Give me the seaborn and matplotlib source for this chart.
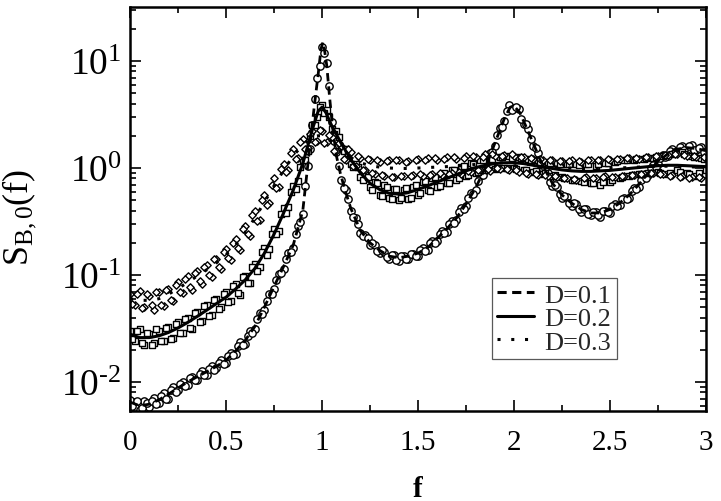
import numpy as np
import pandas as pd
import matplotlib
matplotlib.use("Agg")
import matplotlib.pyplot as plt
import seaborn as sns
from matplotlib.ticker import FixedLocator, FixedFormatter, LogLocator, NullFormatter, MultipleLocator

# ---------------- data ----------------
labels = ["D=0.1", "D=0.2", "D=0.3"]

f_curve_d1 = [0.00, 0.05, 0.10, 0.15, 0.20, 0.25, 0.30, 0.35, 0.40, 0.45, 0.50, 0.55, 0.60, 0.65,
              0.70, 0.75, 0.80, 0.85, 0.90, 0.92, 0.94, 0.96, 0.98, 0.995, 1.005, 1.015, 1.025,
              1.04, 1.055, 1.075, 1.095, 1.12, 1.15, 1.20, 1.25, 1.30, 1.35, 1.40, 1.45, 1.50,
              1.55, 1.60, 1.65, 1.70, 1.75, 1.80, 1.85, 1.90, 1.95, 1.98, 2.00, 2.03, 2.06, 2.10,
              2.15, 2.20, 2.25, 2.30, 2.35, 2.40, 2.45, 2.50, 2.55, 2.60, 2.65, 2.70, 2.75, 2.80,
              2.85, 2.90, 2.95, 3.00]
s_curve_d1 = [0.0065, 0.0060, 0.0062, 0.0068, 0.0077, 0.0088, 0.0100, 0.0112, 0.0125, 0.0140,
              0.0160, 0.0195, 0.0245, 0.0330, 0.050, 0.078, 0.120, 0.190, 0.40, 0.85, 1.8, 3.8,
              7.5, 13.0, 15.0, 12.0, 9.0, 4.5, 2.4, 1.3, 0.9, 0.62, 0.42, 0.26, 0.20, 0.17,
              0.15, 0.145, 0.15, 0.16, 0.18, 0.22, 0.27, 0.34, 0.46, 0.65, 1.0, 1.7, 2.9, 3.7,
              3.8, 3.3, 2.5, 1.7, 1.05, 0.72, 0.56, 0.47, 0.41, 0.38, 0.38, 0.41, 0.47, 0.56,
              0.70, 0.90, 1.15, 1.35, 1.50, 1.55, 1.52, 1.45]

f_curve = [0.00, 0.05, 0.10, 0.15, 0.20, 0.25, 0.30, 0.35, 0.40, 0.45, 0.50, 0.55, 0.60, 0.65,
           0.70, 0.75, 0.80, 0.85, 0.90, 0.95, 0.98, 1.00, 1.02, 1.05, 1.10, 1.15, 1.20, 1.25,
           1.30, 1.35, 1.40, 1.45, 1.50, 1.55, 1.60, 1.65, 1.70, 1.75, 1.80, 1.85, 1.90, 1.95,
           2.00, 2.05, 2.10, 2.15, 2.20, 2.25, 2.30, 2.35, 2.40, 2.45, 2.50, 2.55, 2.60, 2.65,
           2.70, 2.75, 2.80, 2.85, 2.90, 2.95, 3.00]
s_curve_d2 = [0.028, 0.026, 0.026, 0.027, 0.029, 0.032, 0.036, 0.041, 0.047, 0.054, 0.062, 0.074,
              0.090, 0.115, 0.16, 0.24, 0.38, 0.62, 1.1, 2.3, 3.4, 3.7, 3.3, 2.5, 1.7, 1.2, 0.90,
              0.72, 0.63, 0.58, 0.57, 0.59, 0.63, 0.68, 0.74, 0.80, 0.87, 0.94, 1.01, 1.06, 1.10,
              1.12, 1.12, 1.10, 1.06, 1.02, 0.99, 0.96, 0.94, 0.93, 0.93, 0.94, 0.95, 0.97, 0.99,
              1.01, 1.03, 1.05, 1.06, 1.06, 1.05, 1.04, 1.03]
s_curve_d3 = [0.060, 0.058, 0.058, 0.060, 0.066, 0.075, 0.085, 0.098, 0.112, 0.130, 0.155, 0.19,
              0.25, 0.34, 0.48, 0.68, 0.95, 1.3, 1.65, 1.95, 2.0, 2.0, 1.95, 1.75, 1.45, 1.25, 1.12,
              1.05, 1.02, 1.00, 0.99, 0.99, 1.00, 1.01, 1.02, 1.03, 1.04, 1.06, 1.08, 1.10, 1.11,
              1.12, 1.11, 1.09, 1.07, 1.05, 1.03, 1.01, 1.00, 0.99, 0.99, 0.99, 1.00, 1.00, 1.01,
              1.02, 1.03, 1.04, 1.04, 1.04, 1.03, 1.02, 1.02]

# simulation points, set A: f = 0, 0.025, ..., 3.0
pts_d1 = [0.0068, 0.0058, 0.0055, 0.0066, 0.0059, 0.0071, 0.0063, 0.0079, 0.0070, 0.0090,
          0.0084, 0.0101, 0.0093, 0.0112, 0.0105, 0.0127, 0.0117, 0.0141, 0.0134, 0.0162,
          0.0151, 0.0188, 0.0183, 0.0236, 0.0229, 0.0300, 0.0310, 0.0440, 0.0470, 0.0660,
          0.0740, 0.1030, 0.1150, 0.1600, 0.1800, 0.2900, 0.3700, 1.05, 2.5, 6.9,
          13.5, 9.6, 2.7, 1.4, 0.78, 0.62, 0.40, 0.34, 0.245, 0.235,
          0.19, 0.19, 0.16, 0.165, 0.14, 0.155, 0.135, 0.152, 0.142, 0.158,
          0.151, 0.178, 0.171, 0.21, 0.208, 0.26, 0.255, 0.32, 0.325, 0.42,
          0.44, 0.58, 0.62, 0.85, 0.95, 1.38, 1.6, 2.35, 2.75, 3.9,
          3.6, 3.55, 2.6, 2.3, 1.6, 1.38, 0.98, 0.9, 0.68, 0.66,
          0.53, 0.54, 0.44, 0.46, 0.39, 0.41, 0.36, 0.39, 0.35, 0.40,
          0.38, 0.46, 0.45, 0.53, 0.53, 0.65, 0.66, 0.84, 0.86, 1.07,
          1.1, 1.32, 1.3, 1.5, 1.45, 1.62, 1.5, 1.63, 1.46, 1.56,
          1.38]
pts_d2 = [0.030, 0.024, 0.031, 0.022, 0.028, 0.023, 0.030, 0.024, 0.033, 0.026,
          0.036, 0.029, 0.040, 0.031, 0.045, 0.037, 0.052, 0.042, 0.060, 0.050,
          0.070, 0.057, 0.083, 0.065, 0.098, 0.084, 0.128, 0.118, 0.180, 0.175,
          0.27, 0.26, 0.42, 0.43, 0.68, 0.75, 1.2, 1.45, 2.5, 3.0,
          3.9, 3.5, 2.3, 2.2, 1.55, 1.5, 1.1, 1.08, 0.82, 0.86,
          0.66, 0.74, 0.56, 0.69, 0.52, 0.64, 0.50, 0.62, 0.51, 0.66,
          0.56, 0.74, 0.62, 0.80, 0.66, 0.88, 0.72, 0.95, 0.78, 1.02,
          0.85, 1.12, 0.90, 1.2, 0.95, 1.25, 0.98, 1.28, 1.0, 1.3,
          1.0, 1.26, 0.95, 1.22, 0.92, 1.18, 0.88, 1.15, 0.85, 1.12,
          0.82, 1.1, 0.78, 1.08, 0.75, 1.1, 0.72, 1.05, 0.70, 1.12,
          0.74, 1.15, 0.80, 1.18, 0.85, 1.2, 0.88, 1.22, 0.90, 1.25,
          0.92, 1.3, 0.88, 1.35, 0.95, 1.4, 0.90, 1.3, 0.85, 1.25,
          0.95]
pts_d3 = [0.066, 0.052, 0.071, 0.050, 0.064, 0.047, 0.069, 0.051, 0.074, 0.057,
          0.086, 0.068, 0.097, 0.073, 0.110, 0.083, 0.125, 0.095, 0.142, 0.115,
          0.175, 0.138, 0.215, 0.17, 0.29, 0.23, 0.40, 0.33, 0.56, 0.47,
          0.80, 0.66, 1.1, 0.95, 1.5, 1.25, 1.85, 1.55, 2.2, 1.8,
          2.2, 1.75, 1.95, 1.45, 1.6, 1.2, 1.4, 1.05, 1.25, 0.95,
          1.2, 0.88, 1.15, 0.85, 1.18, 0.82, 1.2, 0.84, 1.16, 0.86,
          1.22, 0.85, 1.25, 0.88, 1.2, 0.86, 1.28, 0.9, 1.22, 0.88,
          1.3, 0.92, 1.28, 0.95, 1.35, 0.94, 1.3, 0.98, 1.32, 0.96,
          1.3, 0.92, 1.26, 0.88, 1.22, 0.86, 1.2, 0.84, 1.18, 0.82,
          1.16, 0.8, 1.18, 0.78, 1.15, 0.82, 1.2, 0.8, 1.18, 0.84,
          1.2, 0.82, 1.22, 0.85, 1.25, 0.86, 1.22, 0.88, 1.28, 0.9,
          1.3, 0.88, 1.32, 0.86, 1.35, 0.84, 1.3, 0.82, 1.28, 0.8,
          1.25]

# simulation points, set B: f = 0.0125, 0.0375, ..., 2.9875
pts_d1_b = [0.0060, 0.0066, 0.0057, 0.0064, 0.0067, 0.0062, 0.0074, 0.0070, 0.0084, 0.0081,
            0.0096, 0.0092, 0.0108, 0.0104, 0.0120, 0.0116, 0.0133, 0.0130, 0.0150, 0.0147,
            0.0175, 0.0178, 0.0215, 0.0222, 0.0270, 0.0285, 0.0385, 0.0430, 0.0570, 0.0670,
            0.090, 0.104, 0.140, 0.163, 0.24, 0.31, 0.68, 1.5, 4.4, 9.0,
            12.0, 5.8, 1.8, 1.05, 0.65, 0.51, 0.35, 0.30, 0.23, 0.22,
            0.20, 0.168, 0.17, 0.148, 0.155, 0.138, 0.152, 0.14, 0.158, 0.15,
            0.172, 0.168, 0.198, 0.2, 0.242, 0.245, 0.298, 0.305, 0.385, 0.41,
            0.52, 0.57, 0.75, 0.86, 1.2, 1.42, 2.05, 2.4, 3.4, 3.5,
            3.75, 2.9, 2.55, 1.85, 1.55, 1.1, 0.99, 0.74, 0.7, 0.57,
            0.55, 0.47, 0.47, 0.41, 0.415, 0.37, 0.39, 0.36, 0.40, 0.385,
            0.44, 0.44, 0.51, 0.51, 0.61, 0.63, 0.78, 0.81, 1.0, 1.03,
            1.24, 1.26, 1.44, 1.42, 1.58, 1.48, 1.6, 1.47, 1.55, 1.41]
pts_d2_b = [0.025, 0.030, 0.023, 0.029, 0.022, 0.031, 0.024, 0.032, 0.025, 0.035,
            0.029, 0.039, 0.032, 0.044, 0.036, 0.051, 0.041, 0.058, 0.048, 0.067,
            0.056, 0.079, 0.068, 0.095, 0.084, 0.12, 0.108, 0.163, 0.155, 0.24,
            0.24, 0.37, 0.38, 0.6, 0.64, 1.02, 1.2, 2.0, 2.5, 3.7,
            3.3, 3.0, 2.1, 1.95, 1.45, 1.38, 1.02, 1.02, 0.78, 0.82,
            0.62, 0.72, 0.55, 0.66, 0.51, 0.64, 0.52, 0.65, 0.53, 0.69,
            0.58, 0.76, 0.61, 0.82, 0.68, 0.9, 0.73, 0.96, 0.8, 1.05,
            0.86, 1.1, 0.92, 1.18, 0.96, 1.22, 0.99, 1.26, 1.0, 1.24,
            0.98, 1.24, 0.96, 1.2, 0.93, 1.15, 0.9, 1.12, 0.86, 1.1,
            0.8, 1.08, 0.77, 1.06, 0.74, 1.08, 0.73, 1.1, 0.74, 1.12,
            0.78, 1.16, 0.82, 1.2, 0.86, 1.22, 0.87, 1.24, 0.9, 1.28,
            0.9, 1.32, 0.9, 1.38, 0.92, 1.36, 0.88, 1.28, 0.9, 1.22]
pts_d3_b = [0.054, 0.067, 0.049, 0.066, 0.052, 0.07, 0.053, 0.073, 0.058, 0.08,
            0.07, 0.092, 0.077, 0.105, 0.088, 0.12, 0.099, 0.14, 0.118, 0.165,
            0.145, 0.2, 0.18, 0.27, 0.24, 0.36, 0.32, 0.5, 0.45, 0.7,
            0.65, 0.98, 0.92, 1.38, 1.22, 1.75, 1.5, 2.1, 1.75, 2.25,
            1.7, 2.05, 1.45, 1.7, 1.22, 1.5, 1.05, 1.3, 0.95, 1.22,
            0.9, 1.18, 0.86, 1.16, 0.83, 1.2, 0.85, 1.14, 0.84, 1.19,
            0.88, 1.2, 0.86, 1.24, 0.9, 1.22, 0.87, 1.26, 0.92, 1.25,
            0.94, 1.3, 0.96, 1.28, 0.97, 1.34, 0.99, 1.3, 0.97, 1.36,
            0.95, 1.28, 0.9, 1.25, 0.88, 1.22, 0.86, 1.19, 0.84, 1.17,
            0.81, 1.17, 0.79, 1.16, 0.8, 1.19, 0.81, 1.18, 0.83, 1.21,
            0.83, 1.21, 0.84, 1.24, 0.86, 1.23, 0.87, 1.26, 0.89, 1.29,
            0.87, 1.33, 0.85, 1.34, 0.83, 1.31, 0.81, 1.3, 0.82, 1.27]

x_ticks = [0, 0.5, 1, 1.5, 2, 2.5, 3]
x_tick_labels = ["0", "0.5", "1", "1.5", "2", "2.5", "3"]
y_ticks = [1e-2, 1e-1, 1e0, 1e1]
y_tick_labels = [r"$10^{\text{-}2}$", r"$10^{\text{-}1}$", r"$10^{0}$", r"$10^{1}$"]

# ---------------- style ----------------
sns.set_theme(style="ticks")
plt.rcParams['font.family'] = ['Liberation Serif', 'DejaVu Serif']
plt.rcParams['mathtext.fontset'] = 'custom'
plt.rcParams['mathtext.rm'] = 'Liberation Serif'
plt.rcParams['mathtext.it'] = 'Liberation Serif:italic'
plt.rcParams['mathtext.bf'] = 'Liberation Serif:bold'

fig = plt.figure(figsize=(7.21, 5.02), dpi=100)
ax = fig.add_axes([130 / 721, 90 / 502, 576 / 721, 404.5 / 502])

step = 0.025
series_pts = [(pts_d1, pts_d1_b, "o", 28), (pts_d2, pts_d2_b, "s", 20), (pts_d3, pts_d3_b, "D", 14)]
for pa, pb, mk, sz in series_pts:
    xa = np.arange(len(pa)) * step
    xb = np.arange(len(pb)) * step + step / 2
    sns.scatterplot(x=np.concatenate([xa, xb]), y=list(pa) + list(pb), marker=mk, s=sz,
                    color="white", edgecolor="black", linewidth=1.0, ax=ax, zorder=2,
                    legend=False)

sns.lineplot(x=f_curve_d1, y=s_curve_d1, ax=ax, color="black", lw=2.0,
             linestyle=(0, (3.0, 1.8)), label=labels[0], zorder=3, sort=False)
sns.lineplot(x=f_curve, y=s_curve_d2, ax=ax, color="black", lw=2.2,
             linestyle="-", label=labels[1], zorder=3, sort=False)
sns.lineplot(x=f_curve, y=s_curve_d3, ax=ax, color="black", lw=2.2,
             linestyle=(0, (1.0, 3.5)), label=labels[2], zorder=3, sort=False)

ax.set_yscale("log")
ax.set_xlim(0, 3)
ax.set_ylim(0.00536, 32.3)

ax.xaxis.set_major_locator(FixedLocator(x_ticks))
ax.xaxis.set_major_formatter(FixedFormatter(x_tick_labels))
ax.xaxis.set_minor_locator(MultipleLocator(0.25))
ax.yaxis.set_major_locator(FixedLocator(y_ticks))
ax.yaxis.set_major_formatter(FixedFormatter(y_tick_labels))
ax.yaxis.set_minor_locator(LogLocator(base=10, subs=np.arange(2, 10)))
ax.yaxis.set_minor_formatter(NullFormatter())

ax.tick_params(which="both", direction="in", top=True, right=True, color="black", width=1.2)
ax.tick_params(which="major", length=8)
ax.tick_params(which="minor", length=4.5)
ax.tick_params(axis="x", which="major", labelsize=21, pad=13, labelcolor="black")
ax.tick_params(axis="y", which="major", labelsize=27, pad=6, labelcolor="black")

for sp in ax.spines.values():
    sp.set_linewidth(1.8)
    sp.set_color("black")
    sp.set_visible(True)

ax.set_xlabel("f", fontsize=21, fontweight="bold", color="black")
ax.xaxis.set_label_coords(0.5, -0.158)
ax.set_ylabel(r"S$_{\mathrm{B,0}}$(f)", fontsize=26, color="black")
ax.yaxis.set_label_coords(-0.16, 0.48)

leg = ax.legend(loc="upper left", bbox_to_anchor=(0.628, 0.329), borderaxespad=0,
                fontsize=19, handlelength=1.4, handletextpad=0.4, labelspacing=0.0,
                borderpad=0.2, fancybox=False, framealpha=1, edgecolor="0.35")
leg.get_frame().set_linewidth(0.9)
for h in leg.get_lines():
    h.set_linewidth(2.2)

fig.savefig("out.png", dpi=100)
